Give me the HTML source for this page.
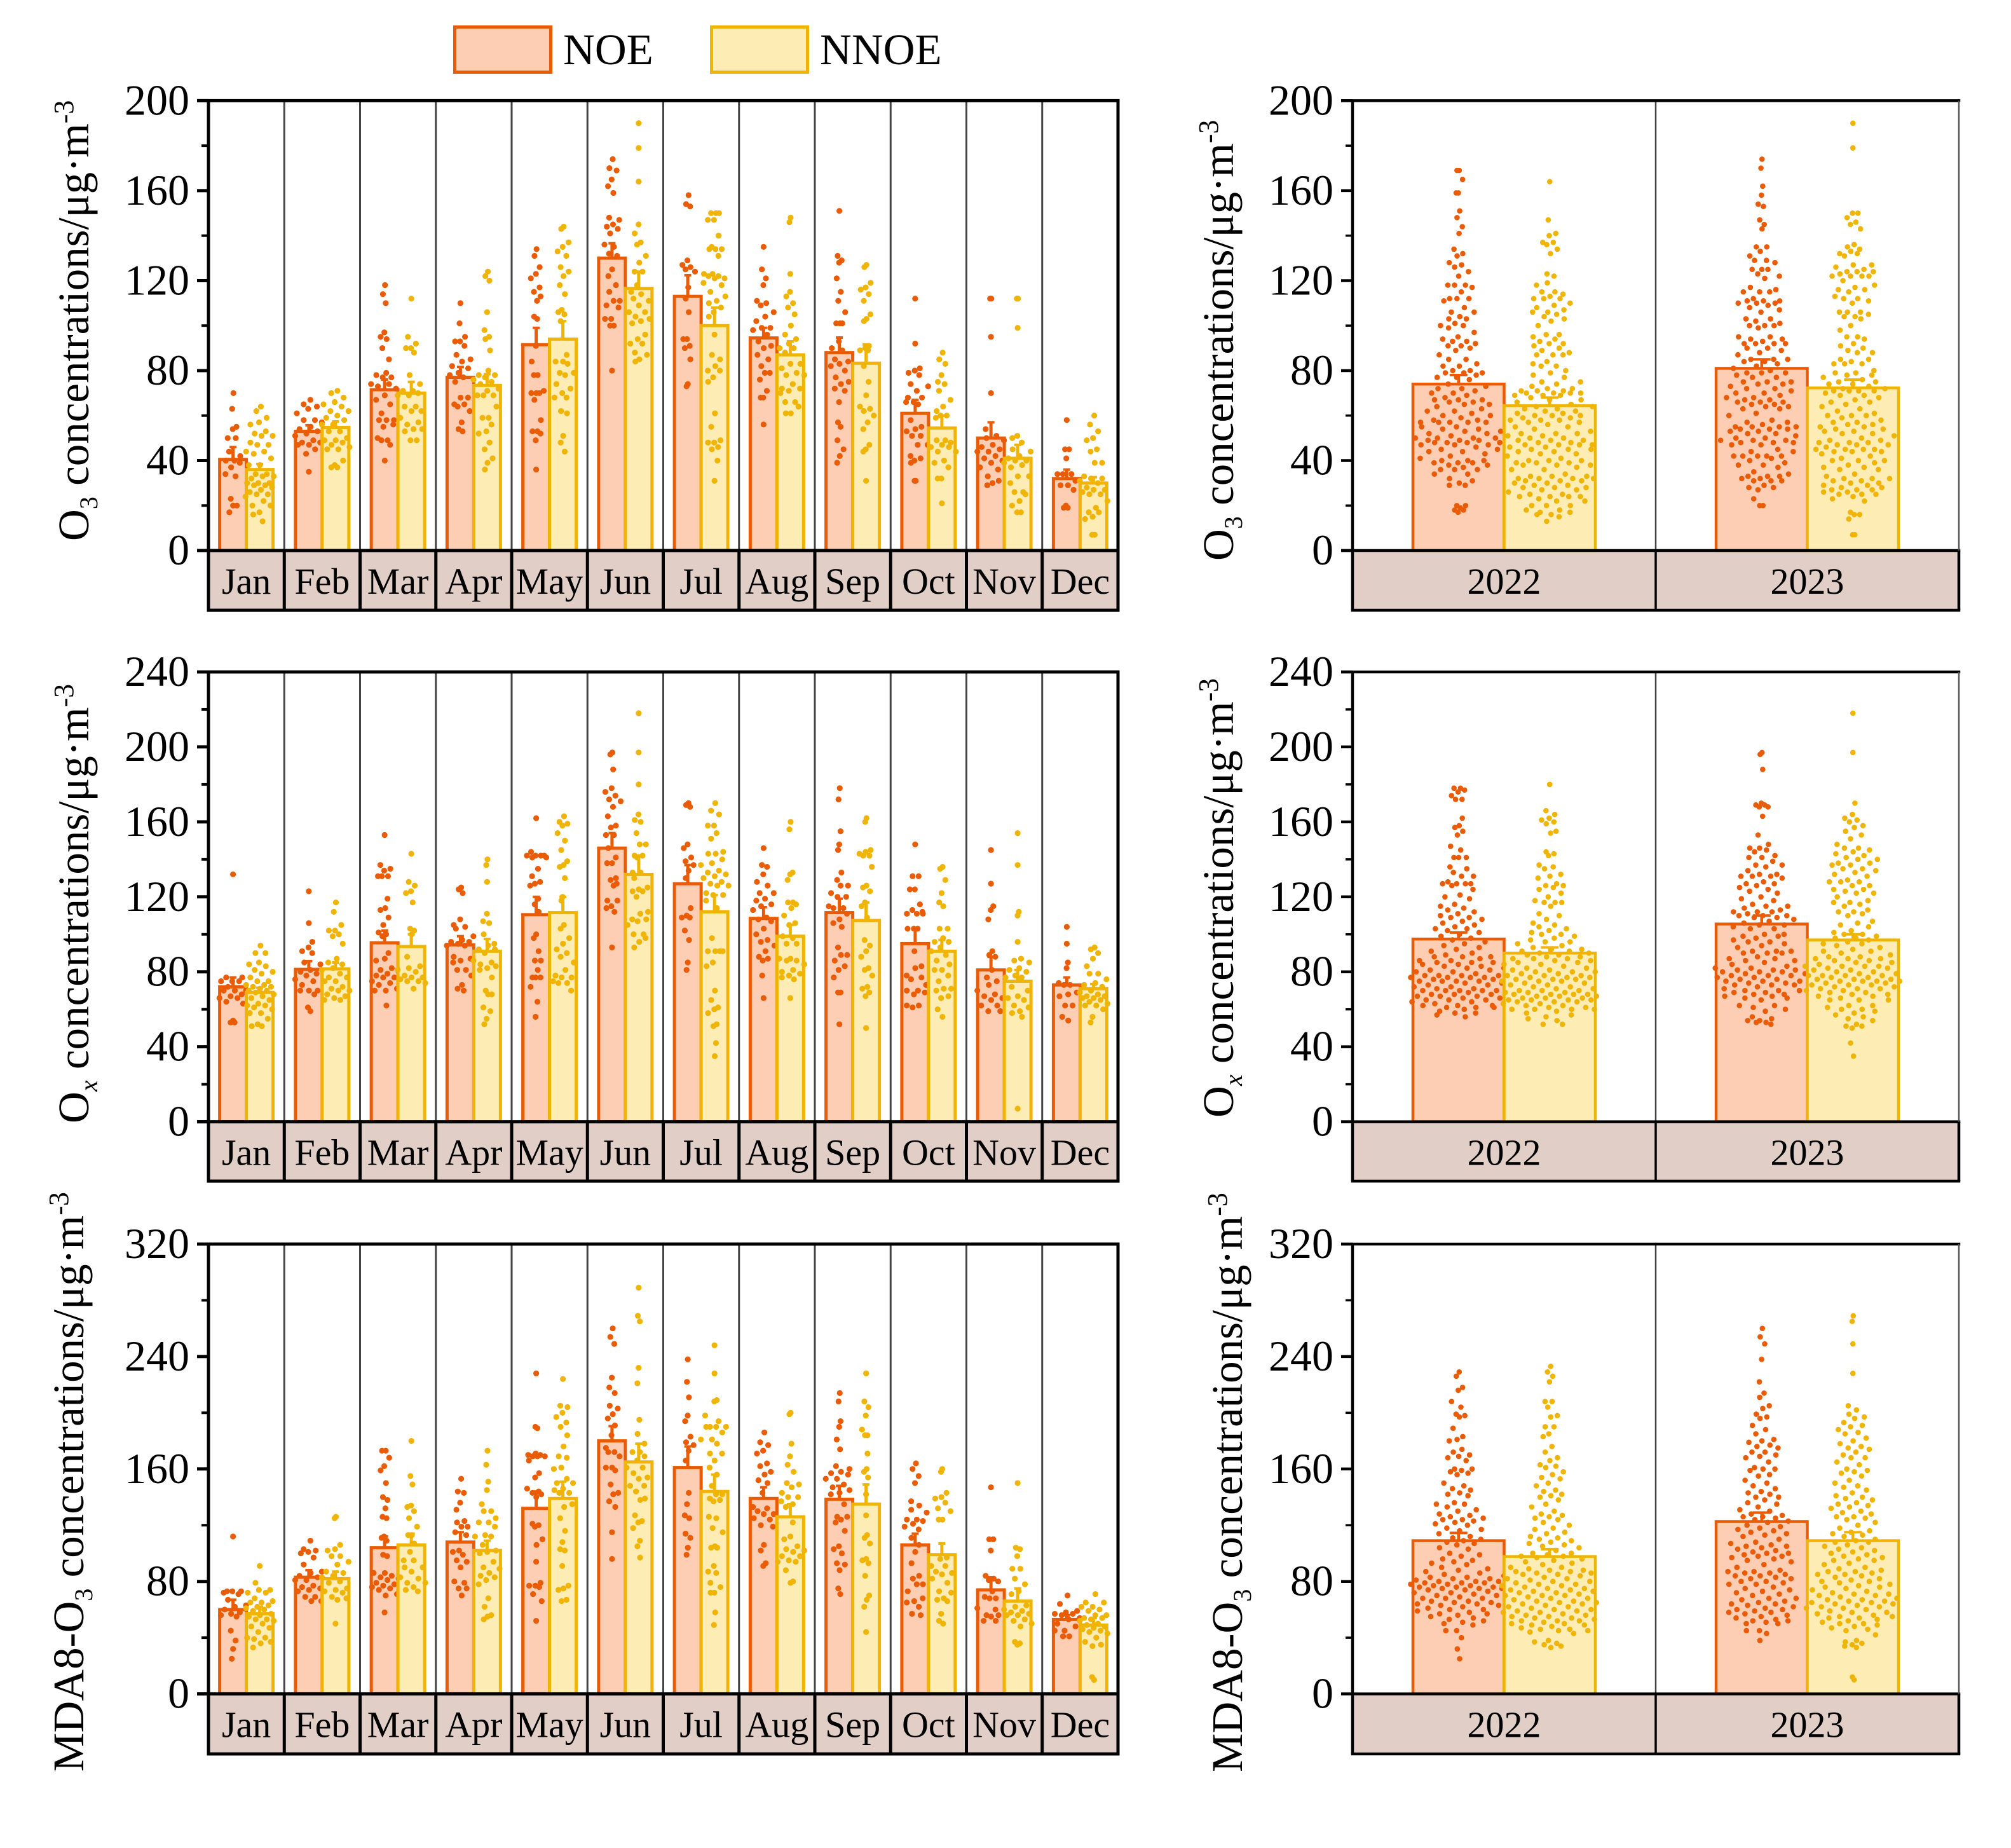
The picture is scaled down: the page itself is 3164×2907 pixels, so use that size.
<!DOCTYPE html>
<html lang="en">
<head>
<meta charset="utf-8">
<title>O3, Ox and MDA8-O3 concentrations on NOE and NNOE days</title>
<style>
html,body{margin:0;padding:0;background:#fff}
svg{display:block}
text{font-family:"Liberation Serif","Times New Roman",serif;fill:#000}
</style>
</head>
<body>
<svg id="figure" xmlns="http://www.w3.org/2000/svg" width="3164" height="2907" viewBox="0 0 3164 2907">
<rect x="0" y="0" width="3164" height="2907" fill="#fff"/>
<g>
<g>
<rect x="715.5" y="42.5" width="151" height="71" fill="#fdcdb4" stroke="#e95c05" stroke-width="5"/>
<text x="886" y="101" font-size="69">NOE</text>
</g>
<g>
<rect x="1119.5" y="42.5" width="151" height="71" fill="#fdecb3" stroke="#f0b405" stroke-width="5"/>
<text x="1290" y="101" font-size="69">NNOE</text>
</g>
</g>
</svg>
<script>
const monthLabels = ['Jan','Feb','Mar','Apr','May','Jun','Jul','Aug','Sep','Oct','Nov','Dec'];
const yearLabels = ['2022','2023'];

/* ---------- O3 monthly ---------- */
const o3MonthNoeMean = [40.5,53,71.5,77,91.5,130,113,94.5,88,61,50,32];
const o3MonthNoeErr = [46,55.7,76,81.6,99,136.6,122.4,99,94.7,67,57,36];
const o3MonthNnoeMean = [36,54.7,70,73.4,94,116.5,100,87,83.3,54.5,41,30];
const o3MonthNnoeErr = [38.5,57.4,75,78.4,102,124,108,93,91.6,60,47,32.6];
const o3MonthNoePoints = [
[70,63,55,54,50,50,44,42,40,40,39,37,34,33,23,20,20,17],
[67,65,64,63,61,58,58,57,55,54,53,52,51,49,48,48,47,47,45,43,35],
[118,114,110,97,95,94,90,85,79,78,77,77,74,74,73,72,69,67,65,61,58,58,58,56,55,50,49,49,47,40],
[110,101,95,93,93,91,87,85,84,82,81,79,78,77,75,68,68,65,65,64,62,57,54,53],
[134,131,126,123,121,117,115,113,111,104,103,91,84,78,78,71,70,70,70,67,58,53,53,52,49,36],
[174,170,169,165,162,159,148,147,145,144,143,141,136,135,132,131,125,122,118,115,111,111,109,108,103,103,100,100,80],
[158,154,153,129,127,126,125,124,117,112,106,94,94,91,90,85,74,73],
[135,125,121,118,111,110,109,106,104,102,99,98,99,96,93,91,90,87,85,82,79,79,76,71,68,68,56],
[151,131,129,128,121,115,111,106,101,101,101,93,90,89,85,84,83,82,80,77,75,74,72,71,66,57,55,49,45,42,39],
[112,92,81,80,79,78,74,73,71,68,68,66,66,65,58,55,54,53,51,51,47,47,42,41,40,39,31,31],
[112,112,95,70,54,51,50,49,47,46,45,44,44,42,41,40,39,37,36,33,31,30,29],
[58,45,45,41,34,34,34,31,29,29,27,20,19,19]
];
const o3MonthNnoePoints = [
[64,62,59,57,56,53,52,51,51,48,47,47,44,44,43,41,38,38,34,34,33,33,32,30,30,30,29,29,28,27,26,25,25,24,22,20,20,17,16,13],
[71,70,68,66,65,64,62,62,60,59,58,56,56,53,53,50,49,49,48,47,46,45,45,40,38,37,37],
[112,95,92,90,90,88,78,74,71,71,70,69,69,64,64,62,62,59,57,56,54,54,53,49,49],
[124,122,120,106,98,95,94,89,80,78,78,77,76,75,74,72,71,69,69,69,64,59,59,56,53,52,48,45,41,39,36],
[144,143,137,135,133,131,126,124,122,118,114,107,106,105,102,87,84,84,83,79,79,78,74,72,70,68,68,62,61,51,48,44],
[190,179,164,145,141,137,136,131,128,124,124,118,115,114,112,111,109,106,106,104,103,102,101,96,94,92,92,88,87,85,84],
[150,150,150,147,147,140,135,134,134,131,134,123,123,122,122,121,121,119,118,115,113,111,110,108,106,104,96,87,85,82,80,80,77,75,61,55,49,48,48,46,45,40,31],
[148,146,123,115,113,110,108,105,100,96,94,92,90,90,88,83,83,81,79,78,78,74,72,72,71,70,66,66,64,61,61],
[127,126,119,117,116,114,111,105,103,102,91,90,89,89,82,75,69,64,63,62,60,57,54,47,45,44,31],
[88,85,83,78,75,74,71,67,64,62,60,60,59,49,48,49,47,46,46,44,44,40,39,37,32,32,21],
[112,112,99,51,50,48,45,44,42,41,40,40,39,38,37,33,33,30,26,26,25,22,20,17,17],
[60,56,53,50,49,45,44,39,39,33,32,32,31,30,28,27,27,26,25,25,22,19,17,17,15,14,7,7]
];

/* ---------- Ox monthly ---------- */
const oxMonthNoeMean = [72,81.3,95.5,94.4,110.5,146,127,108.5,111.6,95,81,73];
const oxMonthNoeErr = [77,85.7,102,99,120,154,137,114.5,119,103,88,77];
const oxMonthNnoeMean = [69,81.6,93.5,91,111.6,132,112,99,107.4,91,75,71];
const oxMonthNnoeErr = [71.5,85,100,97.5,120,142,121,105,117,97,81,73.5];
const oxMonthNoePoints = [
[132,77,77,75,75,75,72,70,70,70,68,67,66,66,64,63,54,53,53],
[123,106,96,93,91,90,85,84,81,80,79,78,76,75,73,70,70,70,68,61,59],
[153,137,135,134,131,131,131,119,114,113,109,105,101,100,99,90,87,86,82,81,80,79,78,77,77,75,74,73,71,70,70,62],
[125,124,122,108,105,104,103,99,97,96,96,95,94,94,88,87,86,85,81,81,78,73,71,70],
[162,144,142,142,142,142,141,141,135,131,128,127,126,119,116,112,100,98,91,86,86,81,77,77,77,72,64,56],
[197,196,188,178,176,174,172,171,168,163,158,157,153,153,146,141,138,138,130,129,127,126,118,118,115,114,112,93],
[170,169,168,148,146,141,139,137,134,130,114,110,109,109,102,97,85,81],
[146,137,136,132,128,126,122,122,119,118,116,115,113,109,108,107,103,100,97,96,94,91,88,87,86,78,66],
[178,172,155,148,145,133,129,126,126,122,120,120,115,114,114,111,108,106,104,93,89,89,86,83,81,77,69,69,52],
[148,131,131,124,124,116,113,112,111,111,111,103,103,103,91,83,82,78,77,76,73,70,70,69,68,62,62,61],
[145,127,115,113,108,91,89,88,81,77,75,73,70,68,67,66,65,62,62,59,59],
[104,95,85,82,74,73,73,69,68,67,62,62,56,54]
];
const oxMonthNnoePoints = [
[94,90,90,85,84,83,81,80,79,77,75,75,73,73,72,72,71,70,70,69,68,67,66,65,63,62,62,61,60,58,58,55,52,51,51],
[117,112,105,102,102,100,99,95,87,85,84,82,81,79,77,77,75,75,72,71,70,70,68,67,66,65,65],
[143,128,126,123,122,117,103,102,100,88,83,82,81,80,78,77,77,76,75,75,74,71],
[140,137,128,111,107,106,100,95,94,92,92,90,86,85,84,83,82,81,77,70,68,68,61,59,55,52],
[163,160,159,158,154,150,145,139,137,136,130,120,118,105,103,98,95,92,90,88,85,81,78,77,77,75,74,74,70],
[218,197,180,164,161,160,154,148,148,142,142,141,133,133,130,125,124,123,123,120,112,111,108,108,107,105,100,100,98,96,93],
[170,166,164,158,158,154,151,144,143,143,140,138,137,134,133,132,131,130,128,127,126,126,122,121,121,118,114,98,91,91,91,91,85,83,70,65,61,60,58,52,51,42,35],
[160,156,133,132,129,117,117,116,114,110,106,105,99,98,95,95,87,87,86,86,84,81,80,79,78,77,76,66],
[162,160,145,144,143,142,142,136,126,125,123,117,115,109,97,94,91,88,82,81,78,72,71,69,67,50],
[136,135,129,122,117,115,103,103,98,96,96,93,91,89,86,84,81,81,78,75,71,71,70,67,66,60,56],
[154,137,112,110,96,87,86,85,82,81,80,78,77,77,72,70,67,66,65,62,61,59,58,56,7],
[93,92,90,87,83,79,79,76,74,73,72,70,69,68,67,67,66,66,65,64,63,62,62,60,56,53]
];

/* ---------- MDA8-O3 monthly ---------- */
const mdaMonthNoeMean = [60,83,104,108,132,180,161,139,138.5,106,74,53];
const mdaMonthNoeErr = [67,88,112,115,144,190.5,176,147,148,114,83,56];
const mdaMonthNnoeMean = [57,82,106,102,139,165,144,126,135,99,66,49];
const mdaMonthNnoeErr = [62,87,114,109,151,178,156,135,149,107,75,54];
const mdaMonthNoePoints = [
[112,73,73,73,72,71,67,63,62,60,58,57,56,55,45,38,32,25],
[109,103,102,101,100,97,92,87,86,84,83,81,81,77,76,75,74,73,69,69,66,66],
[173,173,168,162,159,150,140,138,132,126,125,112,111,109,99,98,86,86,84,83,82,81,79,78,77,76,75,74,71,70,58],
[153,144,143,136,131,123,122,119,119,115,113,102,101,99,95,94,90,80,79,75,75,70],
[228,190,189,171,170,170,169,169,169,166,157,154,146,144,143,142,140,121,120,119,110,106,94,79,77,77,76,71,66,52],
[260,254,249,225,218,214,205,203,199,196,191,184,175,172,172,169,161,161,159,149,143,142,137,133,115,96],
[238,222,211,198,194,183,179,177,173,166,143,135,127,125,114,111,104,99],
[186,179,177,173,171,164,162,158,156,152,150,143,133,132,130,128,128,125,124,120,119,106,102,93,91],
[214,208,194,190,181,174,162,160,158,157,156,153,153,149,147,145,143,142,135,126,126,124,122,116,105,103,100,93,92,88,75,71],
[164,160,155,150,137,134,131,129,124,124,123,121,119,117,111,106,101,93,84,82,78,78,73,68,66,65,62,57,56],
[147,110,110,102,84,82,81,80,73,69,68,68,61,60,56,56,55,52,52],
[70,64,59,58,57,57,56,54,53,50,48,45,45,41,41]
];
const mdaMonthNnoePoints = [
[91,79,74,74,72,72,68,66,65,65,63,62,61,60,59,57,56,55,53,53,52,50,48,47,44,40,40,39,37,36,33],
[126,125,106,103,102,98,98,94,92,87,86,84,83,80,79,75,74,73,72,69,68,67,50],
[180,155,149,134,133,130,125,119,113,113,107,101,95,95,90,90,87,83,82,79,79,76,74,73],
[173,163,151,145,135,130,130,125,122,122,119,113,112,112,106,102,101,100,94,90,89,86,84,83,81,78,68,62,56,55,53],
[224,205,204,200,197,193,190,184,176,169,168,161,160,153,150,150,146,145,143,143,135,133,125,116,108,103,102,91,77,75,74,67,66],
[289,269,265,232,221,195,185,178,172,172,169,166,161,161,157,154,153,148,148,144,139,138,127,123,122,118,109,105,97],
[248,228,209,208,198,194,190,190,190,190,186,181,181,178,171,171,166,161,156,148,142,142,139,138,137,126,125,118,115,105,104,104,91,87,86,79,76,72,72,58,49],
[200,199,178,169,163,158,150,149,147,143,140,140,137,135,133,122,112,110,105,103,102,101,98,98,95,94,94,88,80,79],
[228,208,204,198,188,184,184,171,160,158,154,142,127,113,111,107,96,95,93,84,70,67,62,44],
[160,158,143,140,139,136,132,130,124,124,97,96,91,91,87,86,85,82,79,73,72,68,67,66,57,52,50],
[150,104,103,98,89,89,82,78,73,71,63,62,60,59,58,57,56,56,53,52,50,48,37,36,35],
[71,65,65,62,62,60,59,56,56,54,54,53,52,50,49,48,47,46,45,44,43,40,37,35,34,12,10]
];

/* ---------- yearly means ---------- */
const o3YearNoeMean = [74,81];
const o3YearNoeErr = [78,85];
const o3YearNnoeMean = [64.4,72.3];
const o3YearNnoeErr = [68,76];
const oxYearNoeMean = [97.5,105.5];
const oxYearNoeErr = [101,110];
const oxYearNnoeMean = [90,97];
const oxYearNnoeErr = [93,100];
const mdaYearNoeMean = [109,122.6];
const mdaYearNoeErr = [114.5,129];
const mdaYearNnoeMean = [97.7,109];
const mdaYearNnoeErr = [103,115];

/* ---------- yearly points ---------- */
const o3YearNoePoints = [
[169,169,165,159,159,151,148,144,141,134,132,131,128,127,126,124,122,118,118,118,117,115,112,112,112,111,108,106,106,104,103,103,101,100,100,99,97,95,94,93,93,92,91,91,90,89,87,85,85,83,82,82,80,80,79,79,79,78,77,77,76,74,73,72,72,71,70,70,69,68,67,67,67,66,66,65,65,64,63,62,62,61,60,60,59,58,58,57,57,57,57,57,55,55,54,54,53,53,52,52,51,50,50,50,50,49,49,49,48,48,48,48,47,47,47,46,45,45,44,44,43,42,41,40,40,40,39,39,39,38,38,37,36,36,36,34,34,32,31,30,29,29,20,20,19,18,18,17],
[174,170,162,158,154,153,147,145,143,135,135,133,131,129,129,128,125,125,125,123,122,121,117,116,115,115,115,112,111,111,111,110,110,110,109,108,107,106,103,103,102,101,100,100,100,99,95,95,94,94,93,92,92,92,92,90,90,89,88,87,85,85,85,84,84,83,82,81,80,79,79,79,78,77,77,75,75,75,74,74,73,72,72,71,70,70,69,68,68,67,67,66,66,66,65,65,64,64,63,63,61,60,58,57,57,56,55,55,55,55,54,54,54,53,53,52,52,51,50,50,49,49,49,48,48,48,47,47,45,44,44,42,42,42,42,42,41,40,39,38,38,37,35,34,33,33,33,32,32,31,31,31,29,28,28,27,23,20,20]
];
const o3YearNnoePoints = [
[164,147,141,140,137,137,136,134,132,123,122,119,118,115,115,114,113,112,112,112,110,109,108,107,106,106,105,104,103,102,100,96,96,95,94,93,92,92,91,90,89,88,87,87,87,84,83,82,82,80,79,78,77,75,75,74,73,72,72,71,71,71,70,70,70,70,69,69,69,68,67,67,66,65,64,64,63,63,62,62,61,61,60,60,60,59,59,58,58,58,57,57,56,55,55,54,53,52,52,52,51,51,50,50,49,49,49,48,48,47,47,47,47,46,46,45,45,45,44,44,43,43,42,41,40,40,40,39,39,39,38,38,38,37,36,36,34,33,33,33,32,32,32,32,31,31,31,30,30,29,29,28,28,28,27,27,26,25,25,24,24,24,24,23,22,22,20,20,20,18,18,17,17,16,16,15,13],
[190,179,150,150,148,146,145,143,136,135,134,133,132,132,131,127,127,126,125,124,124,124,123,122,122,122,122,120,118,117,116,116,115,113,112,112,111,110,106,106,106,105,104,104,103,100,98,95,95,94,92,91,90,89,88,88,85,85,84,83,83,83,80,79,79,78,78,77,76,75,75,74,74,73,72,72,71,71,71,71,70,69,69,68,67,66,66,65,64,63,62,61,60,60,60,59,58,57,57,56,56,55,55,54,54,53,53,52,52,51,50,49,49,48,48,48,47,47,47,46,45,45,45,45,44,44,44,43,42,41,40,40,40,39,38,37,37,36,36,34,33,32,32,32,31,31,30,30,29,29,28,28,27,27,27,26,26,25,25,25,24,23,22,17,16,16,14,7,7]
];
const oxYearNoePoints = [
[178,178,177,176,174,172,172,162,158,157,155,153,147,145,141,141,141,136,135,133,131,131,128,127,127,127,127,126,124,121,120,119,116,115,114,113,112,111,110,109,109,108,107,106,105,104,103,103,102,101,100,99,98,97,96,95,94,93,92,91,90,89,88,88,88,87,86,86,85,85,85,84,84,83,83,82,82,81,81,80,80,79,78,78,78,78,77,77,77,77,76,76,75,75,75,75,74,74,73,73,72,72,71,71,70,70,70,70,70,69,69,68,68,68,67,67,67,66,66,65,65,65,64,64,63,62,62,62,61,61,61,60,59,58,58,57,56],
[197,196,188,170,169,169,168,168,163,153,148,146,146,145,144,142,141,141,139,137,137,136,134,132,132,131,131,131,130,128,127,127,126,125,124,123,122,120,119,118,116,115,115,114,113,112,112,112,111,110,110,110,109,109,108,107,106,105,105,104,103,103,100,100,99,99,98,97,96,96,95,94,93,91,91,91,90,90,90,88,87,87,86,86,85,84,83,82,82,81,81,81,80,80,80,79,79,78,78,78,77,77,76,76,75,75,75,74,74,74,73,73,73,72,71,70,70,70,69,69,68,68,67,67,66,66,65,62,62,61,60,59,56,55,54,54,53,53,52]
];
const oxYearNnoePoints = [
[180,166,164,162,161,160,159,155,154,144,143,142,137,136,135,132,131,130,127,126,126,125,124,122,120,118,117,117,117,115,111,110,108,106,105,104,103,102,101,100,100,99,98,97,96,96,95,94,93,92,92,91,91,90,90,89,89,88,88,87,87,87,86,86,85,85,84,84,83,82,82,81,81,80,80,80,79,79,78,78,78,77,77,77,76,76,76,75,75,75,74,74,73,73,72,72,71,71,70,70,70,69,69,69,68,68,68,68,67,67,67,66,66,66,65,65,65,65,64,64,64,63,63,62,62,61,61,60,60,60,60,59,58,57,56,55,54,52,52],
[218,197,170,164,162,161,160,158,157,155,153,151,148,146,146,145,144,143,142,141,140,140,138,138,137,137,135,135,134,133,132,131,129,128,128,128,126,126,124,124,123,122,122,120,118,117,117,116,115,113,112,112,111,110,107,106,105,104,102,101,100,100,99,98,98,97,96,95,95,94,93,92,91,91,90,89,88,88,87,87,87,86,86,85,85,84,83,83,83,83,82,82,81,81,80,80,79,79,78,78,78,78,77,77,76,76,76,75,75,75,75,74,74,73,73,73,72,72,71,71,71,70,70,69,69,68,68,67,67,66,65,65,65,62,62,61,60,60,59,58,57,56,55,54,52,51,51,50,42,35]
];
const mdaYearNoePoints = [
[229,226,218,216,208,204,199,198,197,189,183,181,180,174,172,170,169,168,166,160,160,159,158,157,156,150,148,146,145,143,142,141,136,135,135,133,131,130,128,127,126,125,124,124,123,122,121,120,118,117,116,114,112,111,110,109,108,107,106,104,103,100,99,98,96,95,94,93,92,90,89,88,87,86,85,84,83,83,82,82,81,80,80,80,79,79,79,78,78,77,77,76,76,76,75,75,75,74,74,73,72,72,71,70,70,69,68,68,68,67,66,66,65,65,64,64,63,63,62,61,60,60,59,58,57,57,56,55,54,53,52,51,50,49,45,45,40,32,25],
[260,254,249,238,222,214,211,205,203,199,197,196,191,188,185,181,180,179,177,176,175,172,172,170,169,168,165,161,160,160,159,156,155,152,150,148,146,144,143,142,140,140,138,136,135,133,131,130,128,127,126,126,125,124,123,122,120,119,118,117,116,115,114,113,112,110,108,107,106,105,105,104,103,102,101,100,100,99,98,98,97,96,95,94,92,90,88,87,87,86,86,85,84,84,83,82,82,80,80,79,78,78,76,75,74,73,72,71,70,68,68,67,66,65,64,64,63,62,61,60,60,59,58,58,57,56,55,54,53,52,52,51,50,50,45,45,43,38]
];
const mdaYearNnoePoints = [
[233,229,226,222,208,208,204,198,197,190,190,185,183,176,172,168,166,163,162,161,158,156,154,153,150,148,145,144,142,141,140,138,135,133,130,128,127,126,125,124,122,120,118,117,115,114,112,111,110,109,108,107,106,105,104,102,100,100,99,98,98,97,96,95,94,93,92,90,90,89,88,88,87,87,86,86,85,85,84,83,82,82,81,80,80,79,78,78,77,77,76,75,75,74,74,73,73,72,72,71,70,70,70,69,68,68,67,66,66,65,65,64,64,63,62,62,61,60,60,59,59,58,58,57,56,56,55,55,54,54,53,52,52,52,51,50,50,49,49,48,47,46,46,45,45,44,43,38,37,36,35,34,33],
[269,265,249,228,205,202,199,197,196,193,191,190,188,186,185,182,180,178,176,175,174,172,170,168,168,165,163,160,159,158,157,155,152,150,148,147,145,143,141,140,139,138,136,135,134,133,132,130,129,128,126,126,125,124,122,120,118,116,115,114,113,112,110,109,108,108,106,105,104,103,102,101,100,99,98,97,96,95,95,93,92,90,89,88,87,87,86,85,85,84,83,82,81,80,80,79,78,77,76,76,75,74,73,72,71,71,70,70,69,68,67,67,66,66,65,65,64,64,63,62,62,61,61,60,59,58,58,57,56,55,55,54,54,53,52,51,50,50,49,48,47,46,45,42,38,37,36,35,34,33,12,10]
];

const NS = 'http://www.w3.org/2000/svg';
const root = document.getElementById('figure');
const NOE_STROKE = '#e95c05', NOE_FILL = '#fdcdb4', NNOE_STROKE = '#f0b405', NNOE_FILL = '#fdecb3';
const STRIP_FILL = '#e0cec7';

function mk(parent, tag, geom) {
  const el = document.createElementNS(NS, tag);
  for (const k in geom) el.setAttribute(k, geom[k]);
  parent.appendChild(el);
  return el;
}

/* Horizontal spread of dots: width follows the local density of the values,
   position inside that width follows a fixed low-discrepancy sequence. */
function spread(values, yScale, windowPx, fullCount, maxHalf) {
  const order = values.map((v, i) => i).sort((a, b) => values[b] - values[a]);
  const offsets = new Array(values.length).fill(0);
  order.forEach((idx, rank) => {
    const y = yScale(values[idx]);
    let count = -1;
    values.forEach(v => { if (Math.abs(yScale(v) - y) <= windowPx) count++; });
    const half = maxHalf * Math.min(1, count / fullCount);
    const frac = ((rank + 1) * 0.6180339887) % 1 - 0.5;
    offsets[idx] = frac * 2 * half;
  });
  return offsets;
}

function drawSeries(group, name, cx, barW, yScale, mean, err, points, stroke, fill, cfg) {
  const y0 = yScale(0), yM = yScale(mean), yE = yScale(err);
  const errLine = mk(group, 'line', { x1: cx, x2: cx, y1: yM, y2: yE, stroke: stroke, 'stroke-width': cfg.barStroke });
  
  
  const errCap = mk(group, 'line', { x1: cx - cfg.capW / 2, x2: cx + cfg.capW / 2, y1: yE, y2: yE, stroke: stroke, 'stroke-width': 4 });
  
  
  const bar = mk(group, 'rect', { x: cx - barW / 2, y: yM, width: barW, height: y0 - yM, fill: fill, stroke: stroke, 'stroke-width': cfg.barStroke });
  
  
  const offsets = spread(points, yScale, cfg.densityWindow, cfg.densityFull, cfg.swarmHalf);
  points.forEach((v, i) => {
    const dot = mk(group, 'circle', { cx: cx + offsets[i], cy: yScale(v), r: cfg.dotR, fill: stroke });
    
    
  });
}

function addTitle(parent, name, baseX, startY, html, size) {
  const t = mk(parent, 'text', { transform: 'translate(' + baseX + ',' + startY + ') rotate(-90)', 'font-size': size });
  
  
  t.innerHTML = html;
}

function drawPanel(cfg) {
  const g = mk(root, 'g', {});
  
  
  const yScale = v => cfg.y0 - (v / cfg.max) * (cfg.y0 - cfg.top);
  const width = cfg.right - cfg.left;
  const n = cfg.labels.length;
  const slot = width / n;
  const mainW = cfg.axisW;

  /* category strip */
  const strip = mk(g, 'rect', { x: cfg.left, y: cfg.y0, width: width, height: cfg.bottom - cfg.y0, fill: STRIP_FILL });
  
  

  /* series */
  cfg.labels.forEach((lab, i) => {
    const c = cfg.left + slot * (i + 0.5);
    drawSeries(g, 'noe-' + lab.toLowerCase(), c - cfg.barW / 2, cfg.barW, yScale, cfg.noeMean[i], cfg.noeErr[i], cfg.noePoints[i], NOE_STROKE, NOE_FILL, cfg);
    drawSeries(g, 'nnoe-' + lab.toLowerCase(), c + cfg.barW / 2, cfg.barW, yScale, cfg.nnoeMean[i], cfg.nnoeErr[i], cfg.nnoePoints[i], NNOE_STROKE, NNOE_FILL, cfg);
  });

  /* dividers */
  for (let i = 1; i < n; i++) {
    const x = cfg.left + slot * i;
    const d = mk(g, 'line', { x1: x, x2: x, y1: cfg.top, y2: cfg.y0, stroke: '#444', 'stroke-width': cfg.divW });
    
    
    const s = mk(g, 'line', { x1: x, x2: x, y1: cfg.y0, y2: cfg.bottom, stroke: '#000', 'stroke-width': cfg.stripDivW });
    
    
  }

  /* frame */
  const top = mk(g, 'line', { x1: cfg.left - 18, x2: cfg.right + mainW / 2, y1: cfg.top, y2: cfg.top, stroke: '#000', 'stroke-width': mainW });
  
  
  const base = mk(g, 'line', { x1: cfg.left - 18, x2: cfg.right + mainW / 2, y1: cfg.y0, y2: cfg.y0, stroke: '#000', 'stroke-width': mainW });
  
  
  const bot = mk(g, 'line', { x1: cfg.left - mainW / 2, x2: cfg.right + mainW / 2, y1: cfg.bottom, y2: cfg.bottom, stroke: '#000', 'stroke-width': mainW });
  
  
  const yAxis = mk(g, 'line', { x1: cfg.left, x2: cfg.left, y1: cfg.top, y2: cfg.bottom, stroke: '#000', 'stroke-width': mainW });
  
  
  const rightEdge = mk(g, 'line', { x1: cfg.right, x2: cfg.right, y1: cfg.top, y2: cfg.y0, stroke: cfg.rightColor, 'stroke-width': cfg.rightW });
  
  
  const rightStrip = mk(g, 'line', { x1: cfg.right, x2: cfg.right, y1: cfg.y0, y2: cfg.bottom, stroke: '#000', 'stroke-width': mainW });
  
  

  /* ticks */
  for (let v = 0; v <= cfg.max; v += cfg.minor) {
    const isMajor = v % cfg.major === 0;
    const tick = mk(g, 'line', { x1: cfg.left - (isMajor ? 18 : 11), x2: cfg.left, y1: yScale(v), y2: yScale(v), stroke: '#000', 'stroke-width': isMajor ? mainW : mainW - 1 });
    
    
    if (isMajor) {
      const lab = mk(g, 'text', { x: cfg.left - 30, y: yScale(v) + 22, 'font-size': 68, 'text-anchor': 'end' });
      
      
      lab.textContent = String(v);
    }
  }

  /* category labels */
  cfg.labels.forEach((lab, i) => {
    const t = mk(g, 'text', { x: cfg.left + slot * (i + 0.5), y: cfg.y0 + 68, 'font-size': 58, 'text-anchor': 'middle' });
    
    
    t.textContent = lab;
  });

  addTitle(g, 'y-axis-title', cfg.titleX, cfg.titleY, cfg.title, 69);
}

const UNIT = 'concentrations/\u03BCg\u00B7m<tspan font-size="44" dy="-24">-3</tspan>';
const titleO3 = 'O<tspan font-size="40" dy="14">3</tspan><tspan dy="-14" xml:space="preserve"> </tspan>' + UNIT;
const titleOx = 'O<tspan font-size="40" font-style="italic" dy="14">x</tspan><tspan dy="-14" xml:space="preserve"> </tspan>' + UNIT;
const titleMda = 'MDA8-O<tspan font-size="40" dy="14">3</tspan><tspan dy="-14" xml:space="preserve"> </tspan>' + UNIT;

const monthGeom = { left: 328, right: 1759, barW: 42, capW: 11, densityWindow: 26, densityFull: 9, swarmHalf: 23, dotR: 4.6, barStroke: 5, axisW: 5, divW: 3, stripDivW: 5, rightColor: '#000', rightW: 5 };
const yearGeom = { left: 2128, right: 3082, barW: 143.5, capW: 28, densityWindow: 26, densityFull: 34, swarmHalf: 76, dotR: 4.3, barStroke: 4.5, axisW: 4.5, divW: 2.5, stripDivW: 3.5, rightColor: '#555', rightW: 2.5 };

drawPanel(Object.assign({}, monthGeom, {
  name: 'o3-monthly-panel', top: 158.4, y0: 866, bottom: 960, max: 200, major: 40, minor: 20,
  labels: monthLabels, noeMean: o3MonthNoeMean, noeErr: o3MonthNoeErr, nnoeMean: o3MonthNnoeMean, nnoeErr: o3MonthNnoeErr,
  noePoints: o3MonthNoePoints, nnoePoints: o3MonthNnoePoints, title: titleO3, titleX: 139, titleY: 851
}));
drawPanel(Object.assign({}, yearGeom, {
  name: 'o3-yearly-panel', top: 158.4, y0: 866, bottom: 960, max: 200, major: 40, minor: 20,
  labels: yearLabels, noeMean: o3YearNoeMean, noeErr: o3YearNoeErr, nnoeMean: o3YearNnoeMean, nnoeErr: o3YearNnoeErr,
  noePoints: o3YearNoePoints, nnoePoints: o3YearNnoePoints, title: titleO3, titleX: 1940, titleY: 882
}));
drawPanel(Object.assign({}, monthGeom, {
  name: 'ox-monthly-panel', top: 1057, y0: 1764.6, bottom: 1858, max: 240, major: 40, minor: 20,
  labels: monthLabels, noeMean: oxMonthNoeMean, noeErr: oxMonthNoeErr, nnoeMean: oxMonthNnoeMean, nnoeErr: oxMonthNnoeErr,
  noePoints: oxMonthNoePoints, nnoePoints: oxMonthNnoePoints, title: titleOx, titleX: 139, titleY: 1767
}));
drawPanel(Object.assign({}, yearGeom, {
  name: 'ox-yearly-panel', top: 1057, y0: 1764.6, bottom: 1858, max: 240, major: 40, minor: 20,
  labels: yearLabels, noeMean: oxYearNoeMean, noeErr: oxYearNoeErr, nnoeMean: oxYearNnoeMean, nnoeErr: oxYearNnoeErr,
  noePoints: oxYearNoePoints, nnoePoints: oxYearNnoePoints, title: titleOx, titleX: 1940, titleY: 1758
}));
drawPanel(Object.assign({}, monthGeom, {
  name: 'mda8-monthly-panel', top: 1957, y0: 2664.6, bottom: 2759, max: 320, major: 80, minor: 40,
  labels: monthLabels, noeMean: mdaMonthNoeMean, noeErr: mdaMonthNoeErr, nnoeMean: mdaMonthNnoeMean, nnoeErr: mdaMonthNnoeErr,
  noePoints: mdaMonthNoePoints, nnoePoints: mdaMonthNnoePoints, title: titleMda, titleX: 131, titleY: 2787
}));
drawPanel(Object.assign({}, yearGeom, {
  name: 'mda8-yearly-panel', top: 1957, y0: 2664.6, bottom: 2759, max: 320, major: 80, minor: 40,
  labels: yearLabels, noeMean: mdaYearNoeMean, noeErr: mdaYearNoeErr, nnoeMean: mdaYearNnoeMean, nnoeErr: mdaYearNnoeErr,
  noePoints: mdaYearNoePoints, nnoePoints: mdaYearNnoePoints, title: titleMda, titleX: 1954, titleY: 2788
}));
</script>
</body>
</html>
